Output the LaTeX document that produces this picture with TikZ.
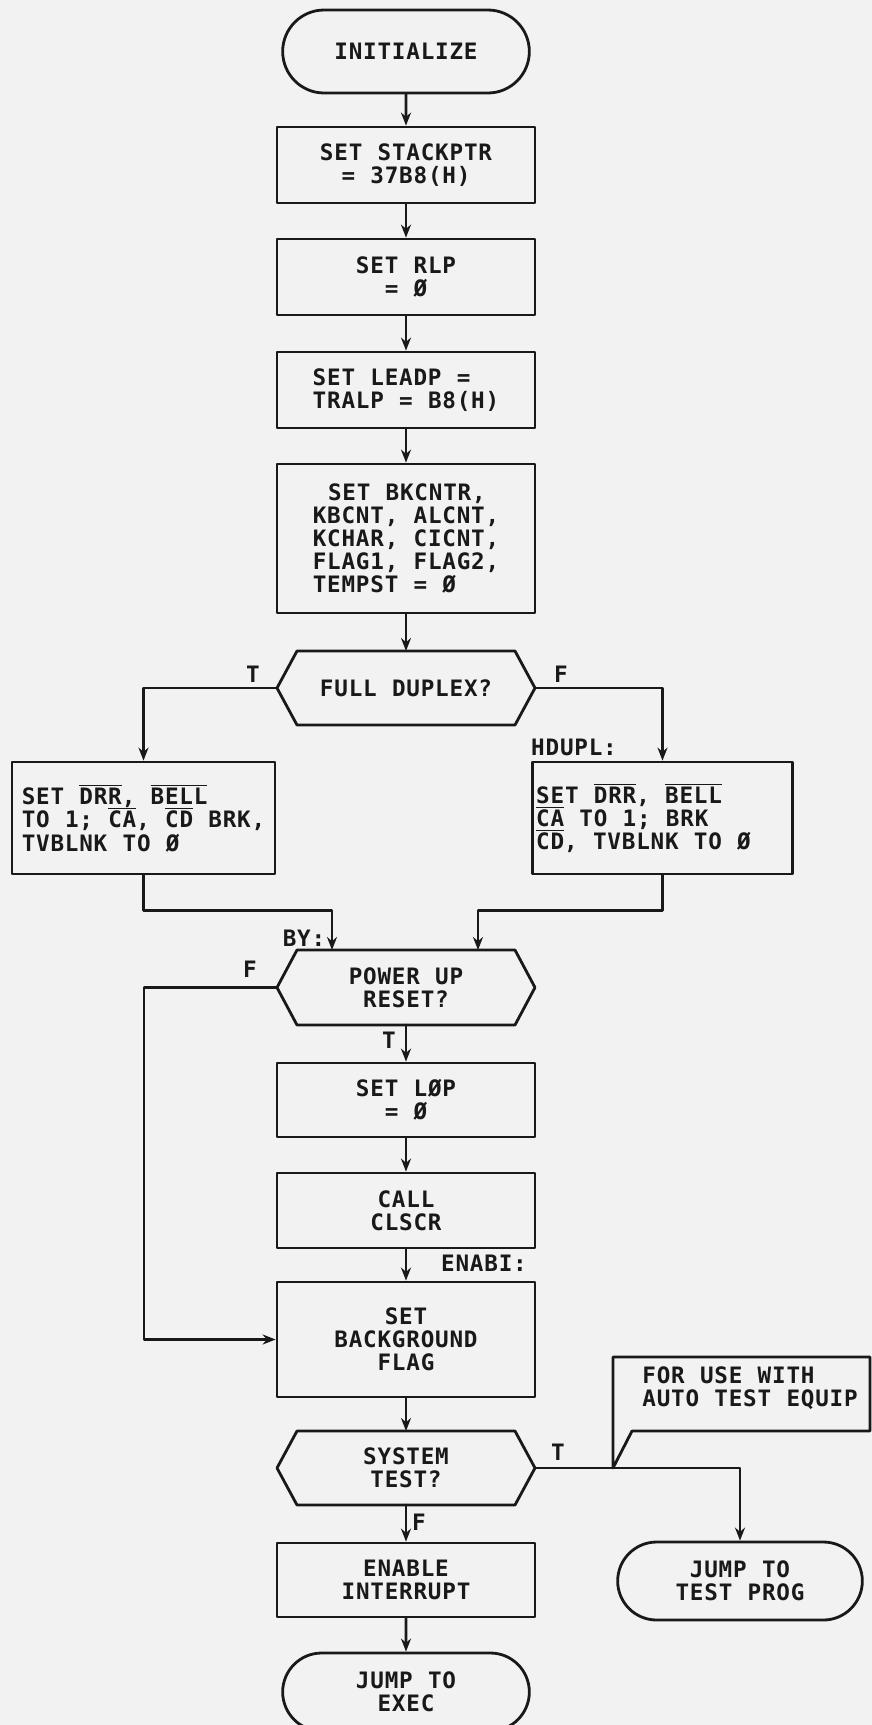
\documentclass[tikz,border=0pt]{standalone}
\usepackage{fontspec}
\usetikzlibrary{shapes.misc,arrows.meta}
\newfontfamily\chartfont{DejaVu Sans Mono Bold}[LetterSpace=3.5,WordSpace=1.06]
\newcommand\chartsize{\fontsize{11.3pt}{11.6pt}\selectfont\lineskiplimit=-6pt}
\newcommand\negsig[1]{$\overline{\mbox{#1}}$}
\definecolor{paper}{gray}{0.95}
\definecolor{ink}{gray}{0.1}

\tikzset{
  flowline/.style={draw=ink, line width=1.4pt},
  proc/.style={flowline, minimum width=129pt, minimum height=38pt, align=center, inner sep=2pt},
  term/.style={flowline, rounded rectangle, minimum width=130pt, minimum height=40pt, align=center},
  test/.style={minimum width=129pt, minimum height=37pt, align=center, inner sep=2pt, outer sep=0pt},
  tag/.style={inner sep=1pt},
  every node/.style={font=\chartfont\chartsize, text=ink},
}

\begin{document}
\begin{tikzpicture}[x=1pt, y=-1pt, line cap=round, line join=round, >={Stealth[length=6.5pt,width=5pt]}]
  \def\cx{203}
  \useasboundingbox (0,0) rectangle (436,862.5);
  \fill[paper] (0,0) rectangle (436,862.5);

  % colonna principale
  \node[term, minimum height=41.5pt] (init) at (\cx,25.75) {INITIALIZE};
  \node[proc] (stack) at (\cx,82.5) {SET STACKPTR\\= 37B8(H)};
  \node[proc] (rlp) at (\cx,138.5) {SET RLP\\= Ø};
  \node[proc, align=left] (leadp) at (\cx,195) {SET LEADP =\\TRALP = B8(H)};
  \node[proc, align=left, minimum height=74.5pt] (bkcntr) at (\cx,269.25)
    {\ SET BKCNTR,\\KBCNT, ALCNT,\\KCHAR, CICNT,\\FLAG1, FLAG2,\\TEMPST = Ø};
  \node[test] (duplex) at (\cx,344) {FULL DUPLEX?};

  % rami duplex
  \node[proc, align=left, minimum width=131.5pt, minimum height=56pt] (fullbox) at (71.75,409)
    {SET \negsig{DRR}, \negsig{BELL}\\TO 1; \negsig{CA}, \negsig{CD} BRK,\\TVBLNK TO Ø};
  \node[proc, align=left, minimum height=56pt] (halfbox) at (331.25,409)
    {SET \negsig{DRR}, \negsig{BELL}\\\negsig{CA} TO 1; BRK\\\negsig{CD}, TVBLNK TO Ø\hspace*{19pt}};

  \node[test, minimum height=37.5pt] (power) at (\cx,493.75) {POWER UP\\RESET?};
  \node[proc, minimum height=37pt] (lop) at (\cx,550) {SET LØP\\= Ø};
  \node[proc, minimum height=37.5pt] (clscr) at (\cx,605.25) {CALL\\CLSCR};
  \node[proc, minimum height=57.5pt] (bgflag) at (\cx,669.75) {SET\\BACKGROUND\\FLAG};
  \node[test] (systest) at (\cx,734) {SYSTEM\\TEST?};
  \node[proc, minimum height=37pt] (enable) at (\cx,790) {ENABLE\\INTERRUPT};
  \node[term, minimum height=39pt] (exec) at (\cx,846) {JUMP TO\\EXEC};
  \node[term, minimum width=129pt, minimum height=39pt] (testprog) at (370,790.5) {JUMP TO\\TEST PROG};
  \node[align=left, anchor=west, inner sep=0pt] (note) at (321,694) {FOR USE WITH\\AUTO TEST EQUIP};

  % esagoni di decisione
  \foreach \h in {duplex,power,systest}
    \draw[flowline] (\h.west) -- ([xshift=10pt]\h.north west) -- ([xshift=-10pt]\h.north east)
      -- (\h.east) -- ([xshift=-10pt]\h.south east) -- ([xshift=10pt]\h.south west) -- cycle;

  % frecce verticali
  \draw[flowline,->] (init) -- (stack);
  \foreach \src/\dst in {stack/rlp, rlp/leadp, leadp/bkcntr, bkcntr/duplex, power/lop,
      lop/clscr, clscr/bgflag, bgflag/systest, systest/enable, enable/exec}
    \draw[flowline,->] (\src) -- (\dst);

  \draw[flowline,->] (duplex.west) -| (fullbox.north);
  \draw[flowline,->] (duplex.east) -| (halfbox.north);
  \draw[flowline,->] (fullbox.south) -- ++(0,17.5) -| ([xshift=-37pt]power.north);
  \draw[flowline,->] (halfbox.south) -- ++(0,17.5) -| ([xshift=36pt]power.north);

  % salto senza reset
  \draw[flowline,->] (power.west) -- ++(-66.5,0) |- (bgflag.west);

  % test di sistema e nota
  \draw[flowline,->] (systest.east) -| (testprog.north);
  \coordinate (tip) at (306.5,734);
  \draw[flowline] (tip) -- (306.5,678.5) -- (435,678.5) -- (435,715.5) -- (316,715.5) -- cycle;

  % etichette
  \node[tag] (dupT) at (126.5,337) {T};
  \node[tag] (dupF) at (280.5,337) {F};
  \node[tag] (hdupl) at (287,373.5) {HDUPL:};
  \node[tag] (by) at (152,469) {BY:};
  \node[tag] (powF) at (125,484.5) {F};
  \node[tag] (powT) at (194.5,520) {T};
  \node[tag] (enabi) at (242,631.5) {ENABI:};
  \node[tag] (sysT) at (279,726) {T};
  \node[tag] (sysF) at (209.5,761) {F};
\end{tikzpicture}
\end{document}
